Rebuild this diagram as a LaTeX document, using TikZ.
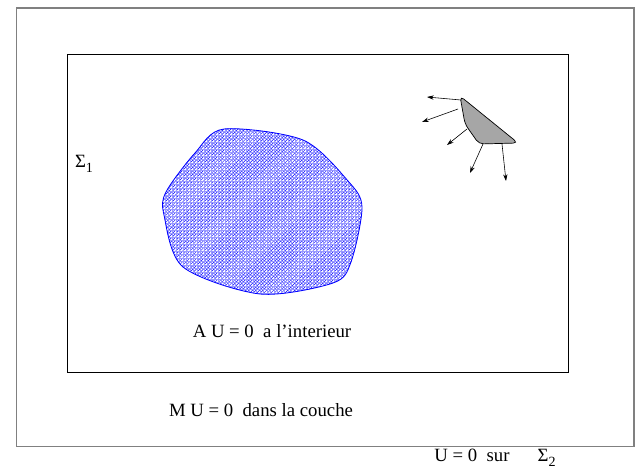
\documentclass[tikz,border=0pt]{standalone}
\usepackage{fontspec}
\setmainfont{Liberation Serif}
\usepackage{tikz}
\usetikzlibrary{arrows.meta,patterns}

\begin{document}
\begin{tikzpicture}[
  x=0.03cm,y=-0.03cm,
  >={Stealth[length=2mm,width=1.3mm]},
  label/.style={inner sep=0pt,anchor=center,font=\fontsize{16}{18}\selectfont},
  outerbox/.style={draw=black!50,line width=1.1pt},
  innerbox/.style={draw=black,line width=0.8pt},
  ray/.style={->,line width=0.5pt}
]
\useasboundingbox (0,0) rectangle (637,476);
% the two boundaries
\draw[outerbox] (16.5,8) rectangle (634,446.5);
\draw[innerbox] (67,54) rectangle (568,372);
% the hatched region
\def\blob{plot[smooth cycle,tension=0.5] coordinates {(224,129) (303,140) (348,181) (362,207)
  (351,262) (333,283) (260,294) (183,267) (164,215) (166,192) (195,153)}}
\path[pattern=north east lines,pattern color=blue] \blob;
\path[pattern=grid,pattern color=blue!40] \blob;
\draw[blue,line width=0.7pt] \blob;
% the small grey body and its rays
\draw[fill=black!35,line width=0.6pt,rounded corners=4pt]
  (460,96) -- (465,124) -- (479,144) -- (518,143) -- cycle;
\coordinate (s1) at (461,100);
\coordinate (s2) at (458,109);
\coordinate (s3) at (467,129);
\coordinate (s4) at (483,144);
\coordinate (s5) at (502,144);
\coordinate (t1) at (427,97);
\coordinate (t2) at (422,122);
\coordinate (t3) at (447,145);
\coordinate (t4) at (470,173);
\coordinate (t5) at (506,181);
\foreach \i in {1,...,5}
  \draw[ray] (s\i) -- (t\i);
% texts
\node[label] (sigone) at (84,164) {Σ\raisebox{-0.6ex}{\fontsize{12}{14}\selectfont 1}};
\node[label] (inside) at (272,331) {A U = 0\ \ a l’interieur};
\node[label] (layer) at (261,410) {M U = 0\ \ dans la couche};
\node[label] (border) at (495,458) {U = 0\ \ sur\hspace{1.5em}Σ\raisebox{-0.6ex}{\fontsize{12}{14}\selectfont 2}};
\end{tikzpicture}
\end{document}
